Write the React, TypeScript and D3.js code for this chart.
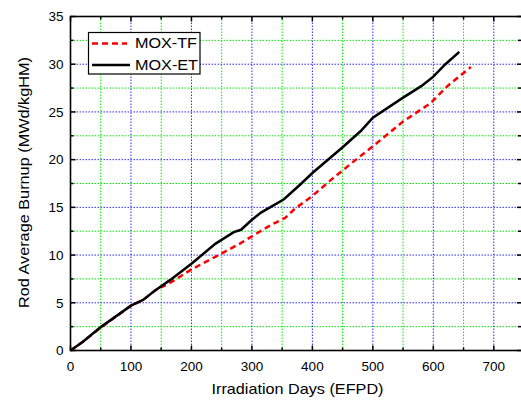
import * as d3 from "d3";

// MOX-ET (black solid)
const etDays = [0, 20, 50, 100, 120, 140, 165, 200, 240, 270, 282, 300, 315, 330, 353, 380, 400, 450, 480, 500, 550, 580, 600, 620, 643];
const etBurnup = [0, 0.9, 2.45, 4.7, 5.3, 6.3, 7.4, 9.1, 11.2, 12.4, 12.65, 13.7, 14.45, 15.0, 15.85, 17.4, 18.6, 21.3, 23.0, 24.4, 26.5, 27.7, 28.7, 30.0, 31.3];

// MOX-TF (red dashed)
const tfDays = [0, 20, 50, 100, 120, 140, 165, 200, 245, 280, 330, 355, 370, 400, 435, 470, 500, 550, 595, 625, 662];
const tfBurnup = [0, 0.9, 2.4, 4.7, 5.3, 6.3, 7.1, 8.5, 10.0, 11.2, 13.1, 13.9, 14.8, 16.2, 18.1, 19.9, 21.4, 24.0, 25.9, 27.8, 29.7];

const xTicks = [0, 100, 200, 300, 400, 500, 600, 700];
const xMinor = [50, 150, 250, 350, 450, 550, 650];
const yTicks = [0, 5, 10, 15, 20, 25, 30, 35];
const yMinor = [2.5, 7.5, 12.5, 17.5, 22.5, 27.5, 32.5];

export default function App() {
  const width = 521;
  const height = 401;
  const left = 70.5;
  const right = 521;
  const top = 16.5;
  const bottom = 350.5;
  const font = "Liberation Sans, Arial, sans-serif";

  const x = d3.scaleLinear().domain([0, 745]).range([left, right]);
  const y = d3.scaleLinear().domain([0, 35]).range([bottom, top]);

  const line = d3
    .line<[number, number]>()
    .x(d => x(d[0]))
    .y(d => y(d[1]))
    .curve(d3.curveLinear);

  const etPath = line(etDays.map((d, i) => [d, etBurnup[i]]));
  const tfPath = line(tfDays.map((d, i) => [d, tfBurnup[i]]));

  return (
    <svg
      width={width}
      height={height}
      style={{ position: "absolute", left: 0, top: 0, background: "#fff" }}
    >
      {/* minor grid (green) */}
      {xMinor.map(t => (
        <line key={"xm" + t} x1={x(t)} x2={x(t)} y1={top} y2={bottom}
          stroke="#00ee00" strokeWidth={1} strokeDasharray="1.5,1.5" />
      ))}
      {yMinor.map(t => (
        <line key={"ym" + t} x1={left} x2={right} y1={y(t)} y2={y(t)}
          stroke="#00ee00" strokeWidth={1} strokeDasharray="1.5,1.5" />
      ))}
      {/* major grid (blue) */}
      {xTicks.slice(1).map(t => (
        <line key={"xg" + t} x1={x(t)} x2={x(t)} y1={top} y2={bottom}
          stroke="#2a2aff" strokeWidth={1} strokeDasharray="1.5,1.5" />
      ))}
      {yTicks.slice(1, -1).map(t => (
        <line key={"yg" + t} x1={left} x2={right} y1={y(t)} y2={y(t)}
          stroke="#2a2aff" strokeWidth={1} strokeDasharray="1.5,1.5" />
      ))}

      {/* series */}
      <path d={tfPath ?? ""} fill="none" stroke="#ff0000" strokeWidth={2.5} strokeDasharray="6,4" />
      <path d={etPath ?? ""} fill="none" stroke="#000" strokeWidth={2.5} />

      {/* frame */}
      <rect x={left} y={top} width={right - left + 2} height={bottom - top}
        fill="none" stroke="#000" strokeWidth={1.6} />

      {/* ticks, inward on all sides */}
      {xTicks.map(t => (
        <g key={"xt" + t}>
          <line x1={x(t)} x2={x(t)} y1={bottom} y2={bottom - 5} stroke="#000" strokeWidth={1.5} />
          <line x1={x(t)} x2={x(t)} y1={top} y2={top + 5} stroke="#000" strokeWidth={1.5} />
          <text x={x(t)} y={bottom + 20} textAnchor="middle" fontSize={13.5} fontFamily={font} fill="#000">
            {t}
          </text>
        </g>
      ))}
      {xMinor.map(t => (
        <g key={"xmt" + t}>
          <line x1={x(t)} x2={x(t)} y1={bottom} y2={bottom - 3} stroke="#000" strokeWidth={1.5} />
          <line x1={x(t)} x2={x(t)} y1={top} y2={top + 3} stroke="#000" strokeWidth={1.5} />
        </g>
      ))}
      {yTicks.map(t => (
        <g key={"yt" + t}>
          <line x1={left} x2={left + 5} y1={y(t)} y2={y(t)} stroke="#000" strokeWidth={1.5} />
          <line x1={right} x2={right - 4} y1={y(t)} y2={y(t)} stroke="#000" strokeWidth={1.5} />
          <text x={left - 7} y={y(t) + 4.8} textAnchor="end" fontSize={13.5} fontFamily={font} fill="#000">
            {t}
          </text>
        </g>
      ))}
      {yMinor.map(t => (
        <g key={"ymt" + t}>
          <line x1={left} x2={left + 3} y1={y(t)} y2={y(t)} stroke="#000" strokeWidth={1.5} />
          <line x1={right} x2={right - 3} y1={y(t)} y2={y(t)} stroke="#000" strokeWidth={1.5} />
        </g>
      ))}

      {/* axis titles */}
      <text x={297.5} y={394} textAnchor="middle" fontSize={15} fontFamily={font} fill="#000"
        textLength={172} lengthAdjust="spacingAndGlyphs">
        Irradiation Days (EFPD)
      </text>
      <text transform={`translate(29,182.5) rotate(-90)`} textAnchor="middle"
        fontSize={15} fontFamily={font} fill="#000" textLength={251} lengthAdjust="spacingAndGlyphs">
        Rod Average Burnup (MWd/kgHM)
      </text>

      {/* legend */}
      <rect x={88.5} y={32.5} width={111.5} height={41.5} fill="#fff" stroke="#000" strokeWidth={1.2} />
      <line x1={92} x2={127} y1={43.5} y2={43.5} stroke="#ff0000" strokeWidth={2.5} strokeDasharray="6,4" />
      <text x={135} y={48} fontSize={14.5} fontFamily={font} fill="#000"
        textLength={62} lengthAdjust="spacingAndGlyphs">MOX-TF</text>
      <line x1={92} x2={130} y1={65} y2={65} stroke="#000" strokeWidth={2.5} />
      <text x={135} y={70} fontSize={14.5} fontFamily={font} fill="#000"
        textLength={63} lengthAdjust="spacingAndGlyphs">MOX-ET</text>
    </svg>
  );
}
